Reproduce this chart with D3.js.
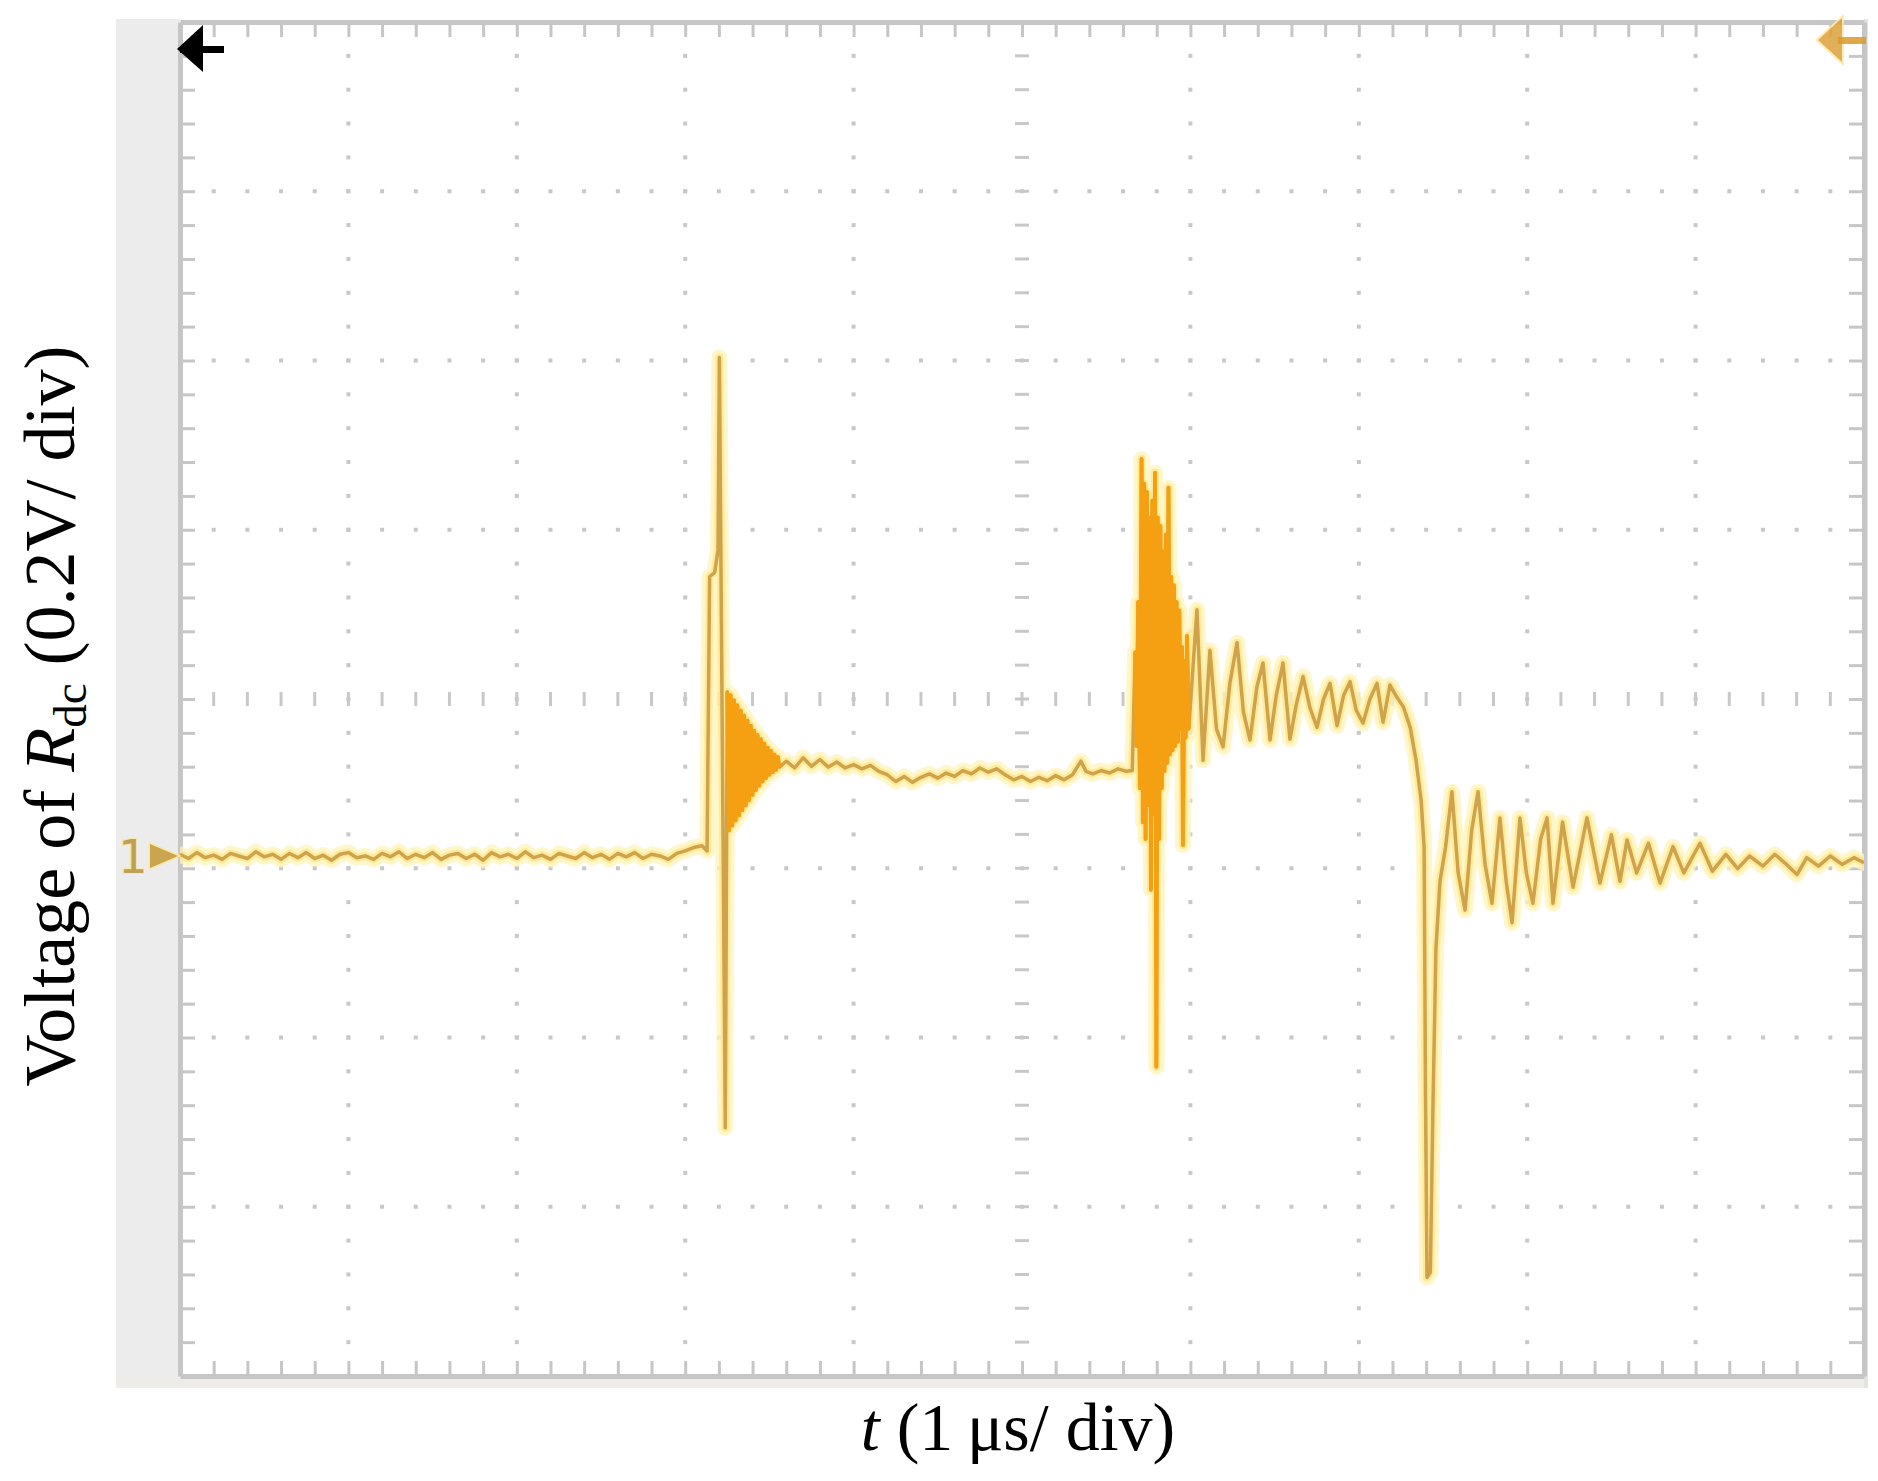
<!DOCTYPE html>
<html><head><meta charset="utf-8">
<script src="https://cdn.jsdelivr.net/npm/d3@7"></script>
<style>
html,body{margin:0;padding:0;background:#fff;}
svg{display:block;}
</style></head>
<body>
<svg id="chart" width="1878" height="1481"></svg>
<script>
// ---------------- DATA ----------------
// time axis: 1 µs/div, 10 divisions ; voltage axis: 0.2 V/div, 8 divisions (relative to CH1 ground marker)
const tDomain = [0, 10];
const vDomain = [-0.6145, 0.9855];
const tPerDiv = 1;
const vPerDiv = 0.2;
const xLabelParts = ["t", " (1\u2009\u03bcs/ div)"];
const yLabelParts = ["Voltage of ", "R", "dc", " (0.2V/ div)"];
const channelLabel = "1";

// trace samples [t (µs), V]
const baseline = [[0.00,0.002],[0.05,-0.003],[0.10,0.004],[0.15,-0.002],[0.20,0.001],[0.25,-0.004],[0.30,0.003],[0.35,0.000],[0.40,-0.003],[0.45,0.005],[0.50,-0.001],[0.55,0.002],[0.60,-0.004],[0.65,0.003],[0.70,-0.002],[0.75,0.004],[0.80,-0.003],[0.85,0.001],[0.90,-0.005],[0.95,0.002],[1.00,0.004],[1.05,-0.002],[1.10,0.000],[1.15,-0.004],[1.20,0.003],[1.25,-0.001],[1.30,0.005],[1.35,-0.003],[1.40,0.002],[1.45,-0.002],[1.50,0.004],[1.55,-0.004],[1.60,0.001],[1.65,0.003],[1.70,-0.003],[1.75,0.002],[1.80,-0.005],[1.85,0.004],[1.90,-0.001],[1.95,0.002],[2.00,-0.003],[2.05,0.005],[2.10,-0.002],[2.15,0.001],[2.20,-0.004],[2.25,0.003],[2.30,0.000],[2.35,-0.003],[2.40,0.004],[2.45,-0.002],[2.50,0.002],[2.55,-0.004],[2.60,0.003],[2.65,-0.001],[2.70,0.004],[2.75,-0.003],[2.80,0.002],[2.85,0.000],[2.90,-0.004],[2.95,0.003],[3.00,0.006],[3.05,0.010],[3.10,0.012],[3.13,0.006]];

const event1 = [[3.145,0.330],[3.175,0.335],[3.195,0.362],[3.203,0.589],[3.238,-0.321],[3.250,0.194],
 [3.260,0.030],[3.270,0.190],[3.280,0.036],[3.290,0.184],[3.300,0.042],[3.310,0.178],[3.320,0.048],[3.330,0.172],[3.340,0.054],[3.350,0.166],[3.360,0.060],[3.370,0.160],[3.380,0.066],[3.390,0.154],[3.400,0.072],[3.410,0.148],[3.420,0.078],[3.430,0.143],[3.440,0.083],[3.450,0.138],[3.460,0.088],[3.470,0.133],[3.480,0.092],[3.490,0.128],[3.500,0.096],[3.510,0.124],[3.520,0.099],[3.530,0.120],[3.540,0.102],[3.550,0.117],[3.560,0.105]];

const plateau1 = [[3.60,0.112],[3.65,0.104],[3.70,0.116],[3.75,0.106],[3.80,0.114],[3.85,0.105],[3.90,0.111],[3.95,0.104],[4.00,0.108],[4.05,0.103],[4.10,0.107],[4.15,0.100],[4.20,0.096],[4.25,0.088],[4.30,0.094],[4.35,0.087],[4.40,0.093],[4.45,0.097],[4.50,0.092],[4.55,0.098],[4.60,0.094],[4.65,0.101],[4.70,0.097],[4.75,0.104],[4.80,0.099],[4.85,0.103],[4.90,0.096],[4.95,0.090],[5.00,0.094],[5.05,0.088],[5.10,0.093],[5.15,0.089],[5.20,0.095],[5.25,0.090],[5.30,0.096],[5.35,0.112],[5.38,0.100],[5.42,0.097],[5.47,0.101],[5.52,0.098],[5.57,0.103],[5.62,0.100],[5.655,0.101]];

const event2 = [[5.672,0.241],[5.680,0.130],[5.690,0.300],[5.700,0.080],[5.710,0.469],[5.718,0.040],[5.726,0.440],[5.734,0.020],[5.742,0.430],[5.750,0.060],[5.758,0.400],[5.766,-0.040],[5.774,0.420],[5.782,0.050],[5.790,0.453],[5.798,-0.249],[5.806,0.400],[5.814,0.020],[5.822,0.390],[5.830,0.080],[5.838,0.360],[5.846,0.100],[5.854,0.380],[5.862,0.110],[5.870,0.435],[5.878,0.120],[5.886,0.330],[5.894,0.125],[5.902,0.320],[5.910,0.130],[5.918,0.300],[5.926,0.135],[5.934,0.290],[5.942,0.150],[5.950,0.247],[5.956,0.013],[5.964,0.230],[5.972,0.140],[5.980,0.260],[5.990,0.150]];

const plateau2 = [[6.039,0.291],[6.075,0.113],[6.116,0.243],[6.155,0.150],[6.194,0.129],[6.235,0.205],[6.277,0.252],[6.315,0.170],[6.354,0.137],[6.395,0.200],[6.431,0.228],[6.473,0.137],[6.510,0.190],[6.550,0.228],[6.591,0.138],[6.630,0.180],[6.669,0.212],[6.710,0.175],[6.752,0.152],[6.790,0.185],[6.829,0.204],[6.871,0.154],[6.910,0.190],[6.948,0.206],[6.985,0.172],[7.025,0.157],[7.065,0.185],[7.108,0.204],[7.144,0.158],[7.185,0.202],[7.225,0.188]];

const drop = [[7.265,0.176],[7.305,0.152],[7.340,0.113],[7.370,0.066],[7.388,0.010],[7.396,-0.280],[7.405,-0.498],[7.425,-0.492],[7.440,-0.300],[7.458,-0.110],[7.482,-0.030],[7.515,0.010]];

const tail = [[7.553,0.076],[7.590,-0.020],[7.631,-0.064],[7.670,0.030],[7.708,0.076],[7.750,-0.010],[7.791,-0.056],[7.838,0.045],[7.875,-0.030],[7.910,-0.079],[7.957,0.045],[7.995,-0.020],[8.034,-0.056],[8.080,0.020],[8.118,0.045],[8.153,-0.056],[8.210,0.040],[8.272,-0.037],[8.355,0.045],[8.432,-0.032],[8.500,0.025],[8.551,-0.030],[8.593,0.019],[8.650,-0.020],[8.720,0.015],[8.789,-0.032],[8.866,0.011],[8.930,-0.020],[9.026,0.015],[9.100,-0.018],[9.180,0.002],[9.250,-0.015],[9.320,0.000],[9.400,-0.012],[9.470,0.002],[9.540,-0.010],[9.602,-0.022],[9.660,-0.002],[9.730,-0.012],[9.800,0.000],[9.870,-0.010],[9.940,-0.002],[10.00,-0.008]];

// time windows where the scope shows a dense (filled) burst
const denseWindows = [[3.245, 3.565], [5.665, 5.995]];

// ---------------- CHART ----------------
const svg = d3.select('#chart');
const plot = {left:180, right:1864, top:22, bottom:1376};
const x = d3.scaleLinear().domain(tDomain).range([plot.left, plot.right]);
const y = d3.scaleLinear().domain(vDomain).range([plot.bottom, plot.top]);

// screen background panels
svg.append('rect').attr('x',116).attr('y',19).attr('width',plot.left-116).attr('height',1388-19).attr('fill','#ececec');
svg.append('rect').attr('x',116).attr('y',plot.bottom).attr('width',1867-116).attr('height',12).attr('fill','#eeece8');
svg.append('rect').attr('x',plot.right).attr('y',19).attr('width',4).attr('height',1369).attr('fill','#e4e4e4');
svg.append('rect').attr('x',plot.left).attr('y',plot.top).attr('width',plot.right-plot.left).attr('height',plot.bottom-plot.top).attr('fill','#ffffff');

const nT = Math.round((tDomain[1]-tDomain[0])/tPerDiv);
const nV = Math.round((vDomain[1]-vDomain[0])/vPerDiv);
const majorT = d3.range(0, nT+1).map(i => tDomain[0] + i*tPerDiv);
const majorV = d3.range(0, nV+1).map(k => vDomain[0] + k*vPerDiv);
const minorT = d3.range(1, nT*5).map(i => tDomain[0] + i*tPerDiv/5);
const minorV = d3.range(1, nV*5).map(j => vDomain[0] + j*vPerDiv/5);
const centerT = majorT[nT/2];
const centerV = majorV[nV/2];
const gridCol = '#c8c8c8';

const grid = svg.append('g');
// dotted vertical grid lines
majorT.slice(1,-1).filter(t => t !== centerT).forEach(t => {
  grid.selectAll(null).data(minorV).enter().append('rect')
    .attr('x', x(t)-2).attr('y', d => y(d)-2).attr('width',4).attr('height',4).attr('fill',gridCol);
});
// dotted horizontal grid lines
majorV.slice(1,-1).filter(v => v !== centerV).forEach(v => {
  grid.selectAll(null).data(minorT).enter().append('rect')
    .attr('x', d => x(d)-2).attr('y', y(v)-2).attr('width',4).attr('height',4).attr('fill',gridCol);
});
// center crosshair with ticks
grid.selectAll(null).data(minorT).enter().append('line')
  .attr('x1', d => x(d)).attr('x2', d => x(d)).attr('y1', y(centerV)-7).attr('y2', y(centerV)+7)
  .attr('stroke', gridCol).attr('stroke-width', 3);
grid.selectAll(null).data(minorV).enter().append('line')
  .attr('y1', d => y(d)).attr('y2', d => y(d)).attr('x1', x(centerT)-7).attr('x2', x(centerT)+7)
  .attr('stroke', gridCol).attr('stroke-width', 3);

// border axes (ticks inward every 0.2 div)
function styleAxis(g){
  g.select('.domain').attr('stroke','#c6c6c6').attr('stroke-width',5);
  g.selectAll('.tick line').attr('stroke','#c6c6c6').attr('stroke-width',3);
  g.selectAll('.tick text').remove();
}
const fmt = () => '';
svg.append('g').attr('transform',`translate(0,${plot.top})`).call(d3.axisTop(x).tickValues(minorT).tickSize(-15).tickSizeOuter(0).tickFormat(fmt)).call(styleAxis);
svg.append('g').attr('transform',`translate(0,${plot.bottom})`).call(d3.axisBottom(x).tickValues(minorT).tickSize(-15).tickSizeOuter(0).tickFormat(fmt)).call(styleAxis);
svg.append('g').attr('transform',`translate(${plot.left},0)`).call(d3.axisLeft(y).tickValues(minorV).tickSize(-15).tickSizeOuter(0).tickFormat(fmt)).call(styleAxis);
svg.append('g').attr('transform',`translate(${plot.right},0)`).call(d3.axisRight(y).tickValues(minorV).tickSize(-15).tickSizeOuter(0).tickFormat(fmt)).call(styleAxis);

// trace
svg.append('clipPath').attr('id','clip').append('rect')
  .attr('x',plot.left).attr('y',plot.top).attr('width',plot.right-plot.left).attr('height',plot.bottom-plot.top);
const trace = [].concat(baseline, event1, plateau1, event2, plateau2, drop, tail);
const line = d3.line().x(d => x(d[0])).y(d => y(d[1]));
const tg = svg.append('g').attr('clip-path','url(#clip)');
tg.append('path').attr('d', line(trace)).attr('fill','none').attr('stroke','#fff3b8').attr('stroke-width',16).attr('stroke-linejoin','round').attr('stroke-linecap','round').attr('opacity',0.75);
tg.append('path').attr('d', line(trace)).attr('fill','none').attr('stroke','#ffe37a').attr('stroke-width',8).attr('stroke-linejoin','round').attr('opacity',0.6);
tg.append('path').attr('d', line(trace)).attr('fill','none').attr('stroke','#cfa24c').attr('stroke-width',3.5).attr('stroke-linejoin','round');
denseWindows.forEach(w => {
  const seg = trace.filter(d => d[0] >= w[0] && d[0] <= w[1]);
  tg.append('path').attr('d', line(seg)).attr('fill','none').attr('stroke','#f5a012').attr('stroke-width',4).attr('stroke-linejoin','round');
});

// channel 1 ground marker
const gy = y(0);
svg.append('text').attr('x',133).attr('y',gy+17).attr('text-anchor','middle')
  .attr('font-family','DejaVu Sans, sans-serif').attr('font-size',46).attr('fill','#bda15a')
  .attr('stroke','#fbe7a0').attr('stroke-width',2).attr('paint-order','stroke').text(channelLabel);
svg.append('path').attr('d',`M150,${gy-12} L178,${gy} L150,${gy+12} Z`).attr('fill','#c9a550').attr('stroke','#fbe7a0').attr('stroke-width',3).attr('paint-order','stroke');

// trigger position marker (black, top-left)
svg.append('path').attr('d','M177,49 L203,25 L203,72 Z').attr('fill','#000');
svg.append('rect').attr('x',180).attr('y',46).attr('width',44).attr('height',7).attr('fill','#000');

// trigger level marker (orange, top-right)
svg.append('path').attr('d','M1818,40 L1842,18 L1842,62 Z').attr('fill','#dca23a').attr('stroke','#ffe9a8').attr('stroke-width',4).attr('paint-order','stroke').attr('opacity',0.85);
svg.append('rect').attr('x',1838).attr('y',37).attr('width',28).attr('height',7).attr('fill','#d99a2a').attr('opacity',0.85);

// axis labels
const serif = 'Liberation Serif, Times New Roman, serif';
const xl = svg.append('text').attr('x',1018).attr('y',1450).attr('text-anchor','middle')
  .attr('font-family',serif).attr('font-size',68).attr('fill','#000');
xl.append('tspan').attr('font-style','italic').text(xLabelParts[0]);
xl.append('tspan').text(xLabelParts[1]);

const yl = svg.append('text').attr('transform','translate(74,716) rotate(-90)').attr('text-anchor','middle')
  .attr('font-family',serif).attr('font-size',72).attr('fill','#000');
yl.append('tspan').text(yLabelParts[0]);
yl.append('tspan').attr('font-style','italic').text(yLabelParts[1]);
yl.append('tspan').attr('font-size',47).attr('dy',12).text(yLabelParts[2]);
yl.append('tspan').attr('dy',-12).text(yLabelParts[3]);
</script>
</body></html>
